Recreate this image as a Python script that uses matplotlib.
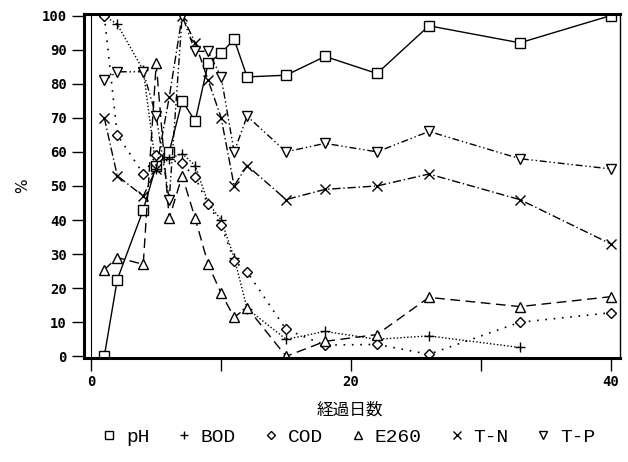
import matplotlib.pyplot as plt

plt.rcParams['font.family'] = ['DejaVu Sans', 'Noto Sans CJK JP']

days = [1, 2, 4, 5, 6, 7, 8, 9, 10, 11, 12, 15, 18, 22, 26, 33, 40]
ph = [0, 22.5, 43, 56, 60, 75, 69, 86, 89, 93, 82, 82.5, 88, 83, 97, 92, 100]
e260 = [25.4, 29, 27, 86, 40.5, 53, 40.5, 27, 18.5, 11.5, 14.3, 0, 4.4, 6.4, 17.3, 14.6, 17.5]
tn = [70, 53, 47, 55, 76, 100, 92, 81, 70, 50, 56, 46, 49, 50, 53.5, 46, 33]
tp = [81, 83.5, 83.5, 70.5, 46, 100, 89.5, 89.5, 82, 60, 70.5, 60, 62.5, 60, 66, 58, 55]

bod_days = [1, 2, 4, 5, 6, 7, 8, 9, 10, 11, 12, 15, 18, 22, 26, 33]
bod = [100, 97.4, 84, 55, 58, 59.5, 56, 45, 40, 29, 14, 5, 7.3, 5, 6, 2.6]

cod_days = [1, 2, 4, 5, 7, 8, 9, 10, 11, 12, 15, 18, 22, 26, 33, 40]
cod = [100, 65, 53.6, 59, 56.6, 52.5, 44.6, 38.5, 28, 24.8, 7.9, 3.3, 3.5, 0.6, 10, 12.8]

fig = plt.figure(figsize=(6.28, 4.62), dpi=100)
ax = fig.add_axes([0.134, 0.225, 0.853, 0.745])

mk = dict(color='black', mfc='white', mec='black', ms=7, mew=1.0, lw=1.0)
ax.plot(days, ph, marker='s', linestyle='-', label='pH', **mk)
ax.plot(bod_days, bod, marker='+', linestyle=(0, (1, 1.5)), label='BOD', **mk)
ax.plot(cod_days, cod, marker='D', linestyle=(0, (1, 4)), label='COD',
        color='black', mfc='white', mec='black', ms=5, mew=1.0, lw=1.2)
ax.plot(days, e260, marker='^', linestyle=(0, (7, 4)), label='E260', **mk)
ax.plot(days, tn, marker='x', linestyle=(0, (6, 2, 1, 2)), label='T-N', **mk)
ax.plot(days, tp, marker='v', linestyle=(0, (5, 2, 1, 2, 1, 2)), label='T-P', **mk)

ax.axvline(0, color='black', lw=0.8)

ax.set_xlim(-0.55, 40.7)
ax.set_ylim(-0.5, 100.5)
ax.set_yticks(range(0, 101, 10))
ax.set_xticks([0, 20, 40])
ax.set_xticks([10, 30], minor=True)
ax.tick_params(axis='y', direction='out', length=9, width=1, labelsize=10)
ax.tick_params(axis='x', which='both', direction='out', length=9, width=1, labelsize=10)
for lab in ax.get_xticklabels() + ax.get_yticklabels():
    lab.set_family('DejaVu Sans Mono')
    lab.set_weight('bold')

for s in ['left', 'bottom', 'top']:
    ax.spines[s].set_linewidth(2.2)
ax.spines['right'].set_linewidth(1.0)

ax.set_ylabel('%', fontsize=11, labelpad=8)
fig.text(0.557, 0.113, '経過日数', fontsize=12, ha='center', va='center',
         family=['Noto Sans CJK JP', 'DejaVu Sans'])

leg = fig.legend(*ax.get_legend_handles_labels(), loc='center', bbox_to_anchor=(0.557, 0.054),
                 ncol=6, frameon=False, handlelength=0.5, handletextpad=0.6,
                 columnspacing=1.55, markerscale=0.8, borderpad=0,
                 prop={'family': 'Liberation Mono', 'size': 14})
for h in leg.legend_handles:
    h.set_linestyle('none')

fig.savefig('out.png', dpi=100)
